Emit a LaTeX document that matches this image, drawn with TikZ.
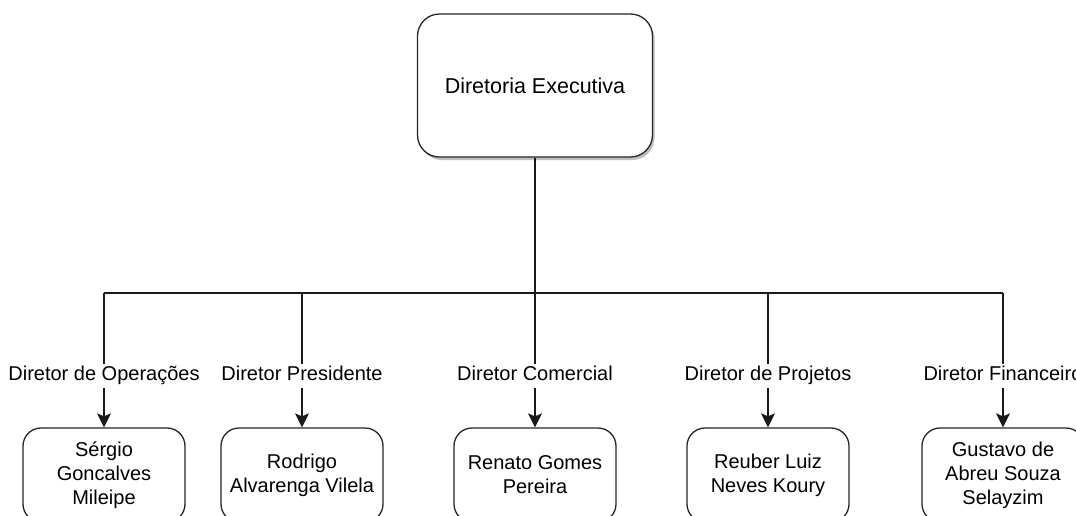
\documentclass[tikz,border=0pt]{standalone}
\usepackage{fontspec}
\setmainfont{Liberation Sans}
\usetikzlibrary{arrows.meta,shadows}
\begin{document}
\begin{tikzpicture}[x=1pt,y=-1pt,
  line width=1.3pt,
  txt/.style={font=\fontsize{20}{24}\selectfont},
  headbox/.style={draw=black!85, fill=white, rounded corners=22pt, minimum width=235pt, minimum height=143pt,
    inner sep=0pt, align=center, font=\fontsize{21.5}{26}\selectfont,
    drop shadow={shadow xshift=2pt, shadow yshift=-3pt, opacity=0.25, fill=black}},
  personbox/.style={draw=black!85, fill=white, rounded corners=18pt, minimum width=162pt, minimum height=94pt,
    inner sep=0pt, align=center, txt},
  role/.style={fill=white, inner sep=2pt, text height=15pt, text depth=5pt, txt, pos=0.615},
  link/.style={draw=black!90},
  arrowlink/.style={link, -{Stealth[length=14pt, width=14pt, inset=3pt]}}
]
\useasboundingbox (0,0) rectangle (1076,515);
\clip (0,0) rectangle (1076,515);

% head of the organisation
\node[headbox] (top) at (535,85.5) {Diretoria Executiva};

% directors
\node[personbox] (b1) at (104,475) {Sérgio\\Goncalves\\Mileipe};
\node[personbox] (b2) at (302,475) {Rodrigo\\Alvarenga Vilela};
\node[personbox] (b3) at (535,475) {Renato Gomes\\Pereira};
\node[personbox] (b4) at (768,475) {Reuber Luiz\\Neves Koury};
\node[personbox] (b5) at (1003,475) {Gustavo de\\Abreu Souza\\Selayzim};

% horizontal distribution bar
\coordinate (j1) at (104,293);
\coordinate (j2) at (302,293);
\coordinate (j3) at (535,293);
\coordinate (j4) at (768,293);
\coordinate (j5) at (1003,293);

\draw[link] (top.south) -- (j3);
\draw[link] (j1) -- (j5);

\draw[arrowlink] (j1) -- node[role] {Diretor de Operações} (b1.north);
\draw[arrowlink] (j2) -- node[role] {Diretor Presidente} (b2.north);
\draw[arrowlink] (j3) -- node[role] {Diretor Comercial} (b3.north);
\draw[arrowlink] (j4) -- node[role] {Diretor de Projetos} (b4.north);
\draw[arrowlink] (j5) -- node[role] {Diretor Financeiro} (b5.north);
\end{tikzpicture}
\end{document}
